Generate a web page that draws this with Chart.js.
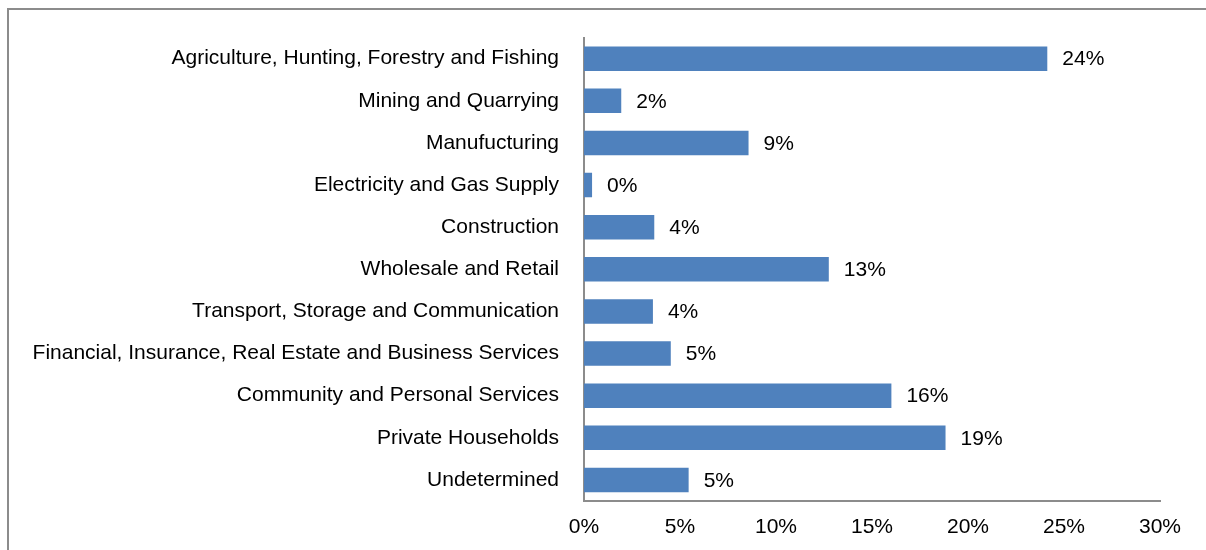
<!DOCTYPE html>
<html>
<head>
<meta charset="utf-8">
<script src="https://cdn.jsdelivr.net/npm/chart.js@4/dist/chart.umd.min.js"></script>
<style>
  html, body { margin: 0; padding: 0; background: #fff; }
  #wrap { width: 1206px; height: 550px; position: relative; }
</style>
</head>
<body>
<div id="wrap"><canvas id="sectorChart"></canvas></div>
<script>
// Share of employment by sector (%)
const sectors = [
    'Agriculture, Hunting, Forestry and Fishing',
    'Mining and Quarrying',
    'Manufucturing',
    'Electricity and Gas Supply',
    'Construction',
    'Wholesale and Retail',
    'Transport, Storage and Communication',
    'Financial, Insurance, Real Estate and Business Services',
    'Community and Personal Services',
    'Private Households',
    'Undetermined'
];
const shares = [24.13, 1.94, 8.57, 0.42, 3.66, 12.75, 3.59, 4.52, 16.01, 18.83, 5.45];

const xMin = 0;
const xMax = 30;
const xStep = 5;

const FONT = { family: "'Liberation Sans', Arial, sans-serif", size: 21 };

// outer frame: only the top and left edges show
const framePlugin = {
    id: 'frame',
    beforeDraw(chart) {
        const ctx = chart.ctx;
        ctx.save();
        ctx.strokeStyle = '#8c8c8c';
        ctx.lineWidth = 2;
        ctx.beginPath();
        ctx.moveTo(8, 550);
        ctx.lineTo(8, 9);
        ctx.lineTo(1206, 9);
        ctx.stroke();
        ctx.restore();
    }
};

// percent labels to the right of each bar
const valueLabels = {
    id: 'valueLabels',
    afterDatasetsDraw(chart) {
        const ctx = chart.ctx;
        const meta = chart.getDatasetMeta(0);
        ctx.save();
        ctx.font = FONT.size + 'px ' + FONT.family;
        ctx.fillStyle = '#000';
        ctx.textAlign = 'left';
        ctx.textBaseline = 'middle';
        meta.data.forEach((bar, i) => {
            ctx.fillText(Math.round(shares[i]) + '%', bar.x + 15, bar.y + 1);
        });
        ctx.restore();
    }
};

new Chart(document.getElementById('sectorChart'), {
    type: 'bar',
    data: {
        labels: sectors,
        datasets: [{
            data: shares,
            backgroundColor: '#4F81BD',
            borderWidth: 0,
            barPercentage: 0.58,
            categoryPercentage: 1.0
        }]
    },
    options: {
        indexAxis: 'y',
        responsive: true,
        maintainAspectRatio: false,
        animation: false,
        layout: { padding: { top: 37, right: 46, left: 0, bottom: 0 } },
        plugins: {
            legend: { display: false },
            tooltip: { enabled: false }
        },
        scales: {
            x: {
                min: xMin,
                max: xMax,
                grid: { display: false, drawTicks: false },
                border: { display: true, color: '#8c8c8c', width: 2 },
                ticks: {
                    stepSize: xStep,
                    padding: 14,
                    color: '#000',
                    font: FONT,
                    callback: v => v + '%'
                },
                afterFit(scale) { scale.height = 49; }
            },
            y: {
                grid: { display: false, drawTicks: false },
                border: { display: true, color: '#8c8c8c', width: 2 },
                ticks: {
                    padding: 25,
                    color: '#000',
                    font: FONT,
                    autoSkip: false
                },
                afterFit(scale) { scale.width = 584; }
            }
        }
    },
    plugins: [framePlugin, valueLabels]
});
</script>
</body>
</html>
